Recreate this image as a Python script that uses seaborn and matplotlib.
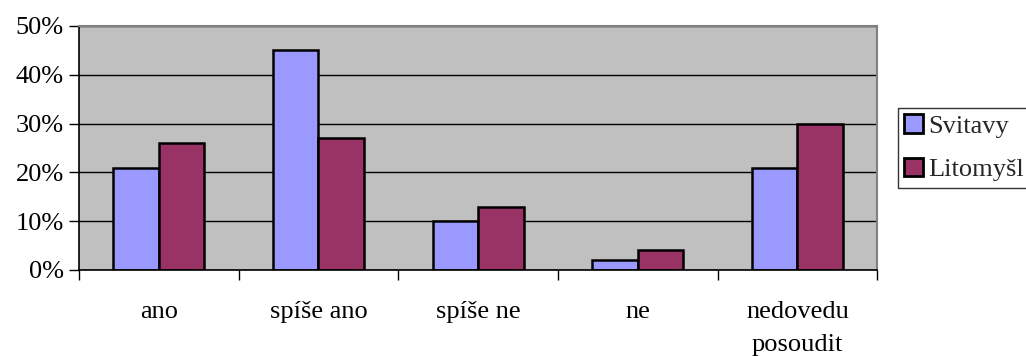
import matplotlib
matplotlib.use("Agg")
import matplotlib.pyplot as plt
import matplotlib.ticker as mticker
import pandas as pd
import seaborn as sns

categories = ["ano", "spíše ano", "spíše ne", "ne", "nedovedu\nposoudit"]
svitavy = [0.21, 0.45, 0.10, 0.02, 0.21]
litomysl = [0.26, 0.27, 0.13, 0.04, 0.30]
series = ["Svitavy", "Litomyšl"]
colors = ["#9999FF", "#993366"]

df = pd.DataFrame({
    "kategorie": categories * 2,
    "podil": svitavy + litomysl,
    "mesto": [series[0]] * len(categories) + [series[1]] * len(categories),
})

sns.set_style("white")
plt.rcParams["font.family"] = ["Liberation Serif", "DejaVu Serif"]
plt.rcParams.update({
    "xtick.bottom": True, "ytick.left": True,
    "xtick.color": "black", "ytick.color": "black",
    "xtick.labelcolor": "black", "ytick.labelcolor": "black",
})

fig = plt.figure(figsize=(10.26, 3.56), dpi=100)
ax = fig.add_axes([0.077, 0.2416, 0.778, 0.6854])
ax.set_facecolor("#C0C0C0")

sns.barplot(data=df, x="kategorie", y="podil", hue="mesto", order=categories,
            hue_order=series, palette=colors, saturation=1, width=0.57,
            edgecolor="black", linewidth=1.8, ax=ax, legend=True)

ax.set_ylim(0, 0.5)
ax.set_xlim(-0.5, len(categories) - 0.5)
ax.yaxis.set_major_locator(mticker.MultipleLocator(0.1))
ax.yaxis.set_major_formatter(mticker.PercentFormatter(1.0, decimals=0))
ax.grid(axis="y", color="black", linewidth=1)
ax.set_axisbelow(True)

ax.set_xticks([i - 0.5 for i in range(len(categories) + 1)], minor=True)
ax.tick_params(axis="x", which="major", bottom=False, length=0, pad=22, labelsize=19)
ax.tick_params(axis="x", which="minor", bottom=True, length=7, width=1, direction="out")
ax.tick_params(axis="y", which="major", left=True, length=7, width=1, direction="out", labelsize=19, pad=4)
for lbl in ax.get_xticklabels():
    lbl.set_linespacing(1.65)
ax.set_xlabel("")
ax.set_ylabel("")

for side in ["left", "bottom"]:
    ax.spines[side].set_color("black")
    ax.spines[side].set_linewidth(1.2)
for side in ["top", "right"]:
    ax.spines[side].set_color("#808080")
    ax.spines[side].set_linewidth(1.5)

handles, labels = ax.get_legend_handles_labels()
ax.get_legend().remove()
for h in handles:
    h.set_linewidth(2)
leg = fig.legend(handles, labels, loc="upper left", bbox_to_anchor=(0.875, 0.697),
                 frameon=True, fancybox=False, edgecolor="black", fontsize=19,
                 handlelength=0.7, handleheight=0.7, handletextpad=0.2,
                 borderpad=0.25, labelspacing=0.75, borderaxespad=0)
leg.get_frame().set_linewidth(1)

fig.savefig("out.png", dpi=100)
